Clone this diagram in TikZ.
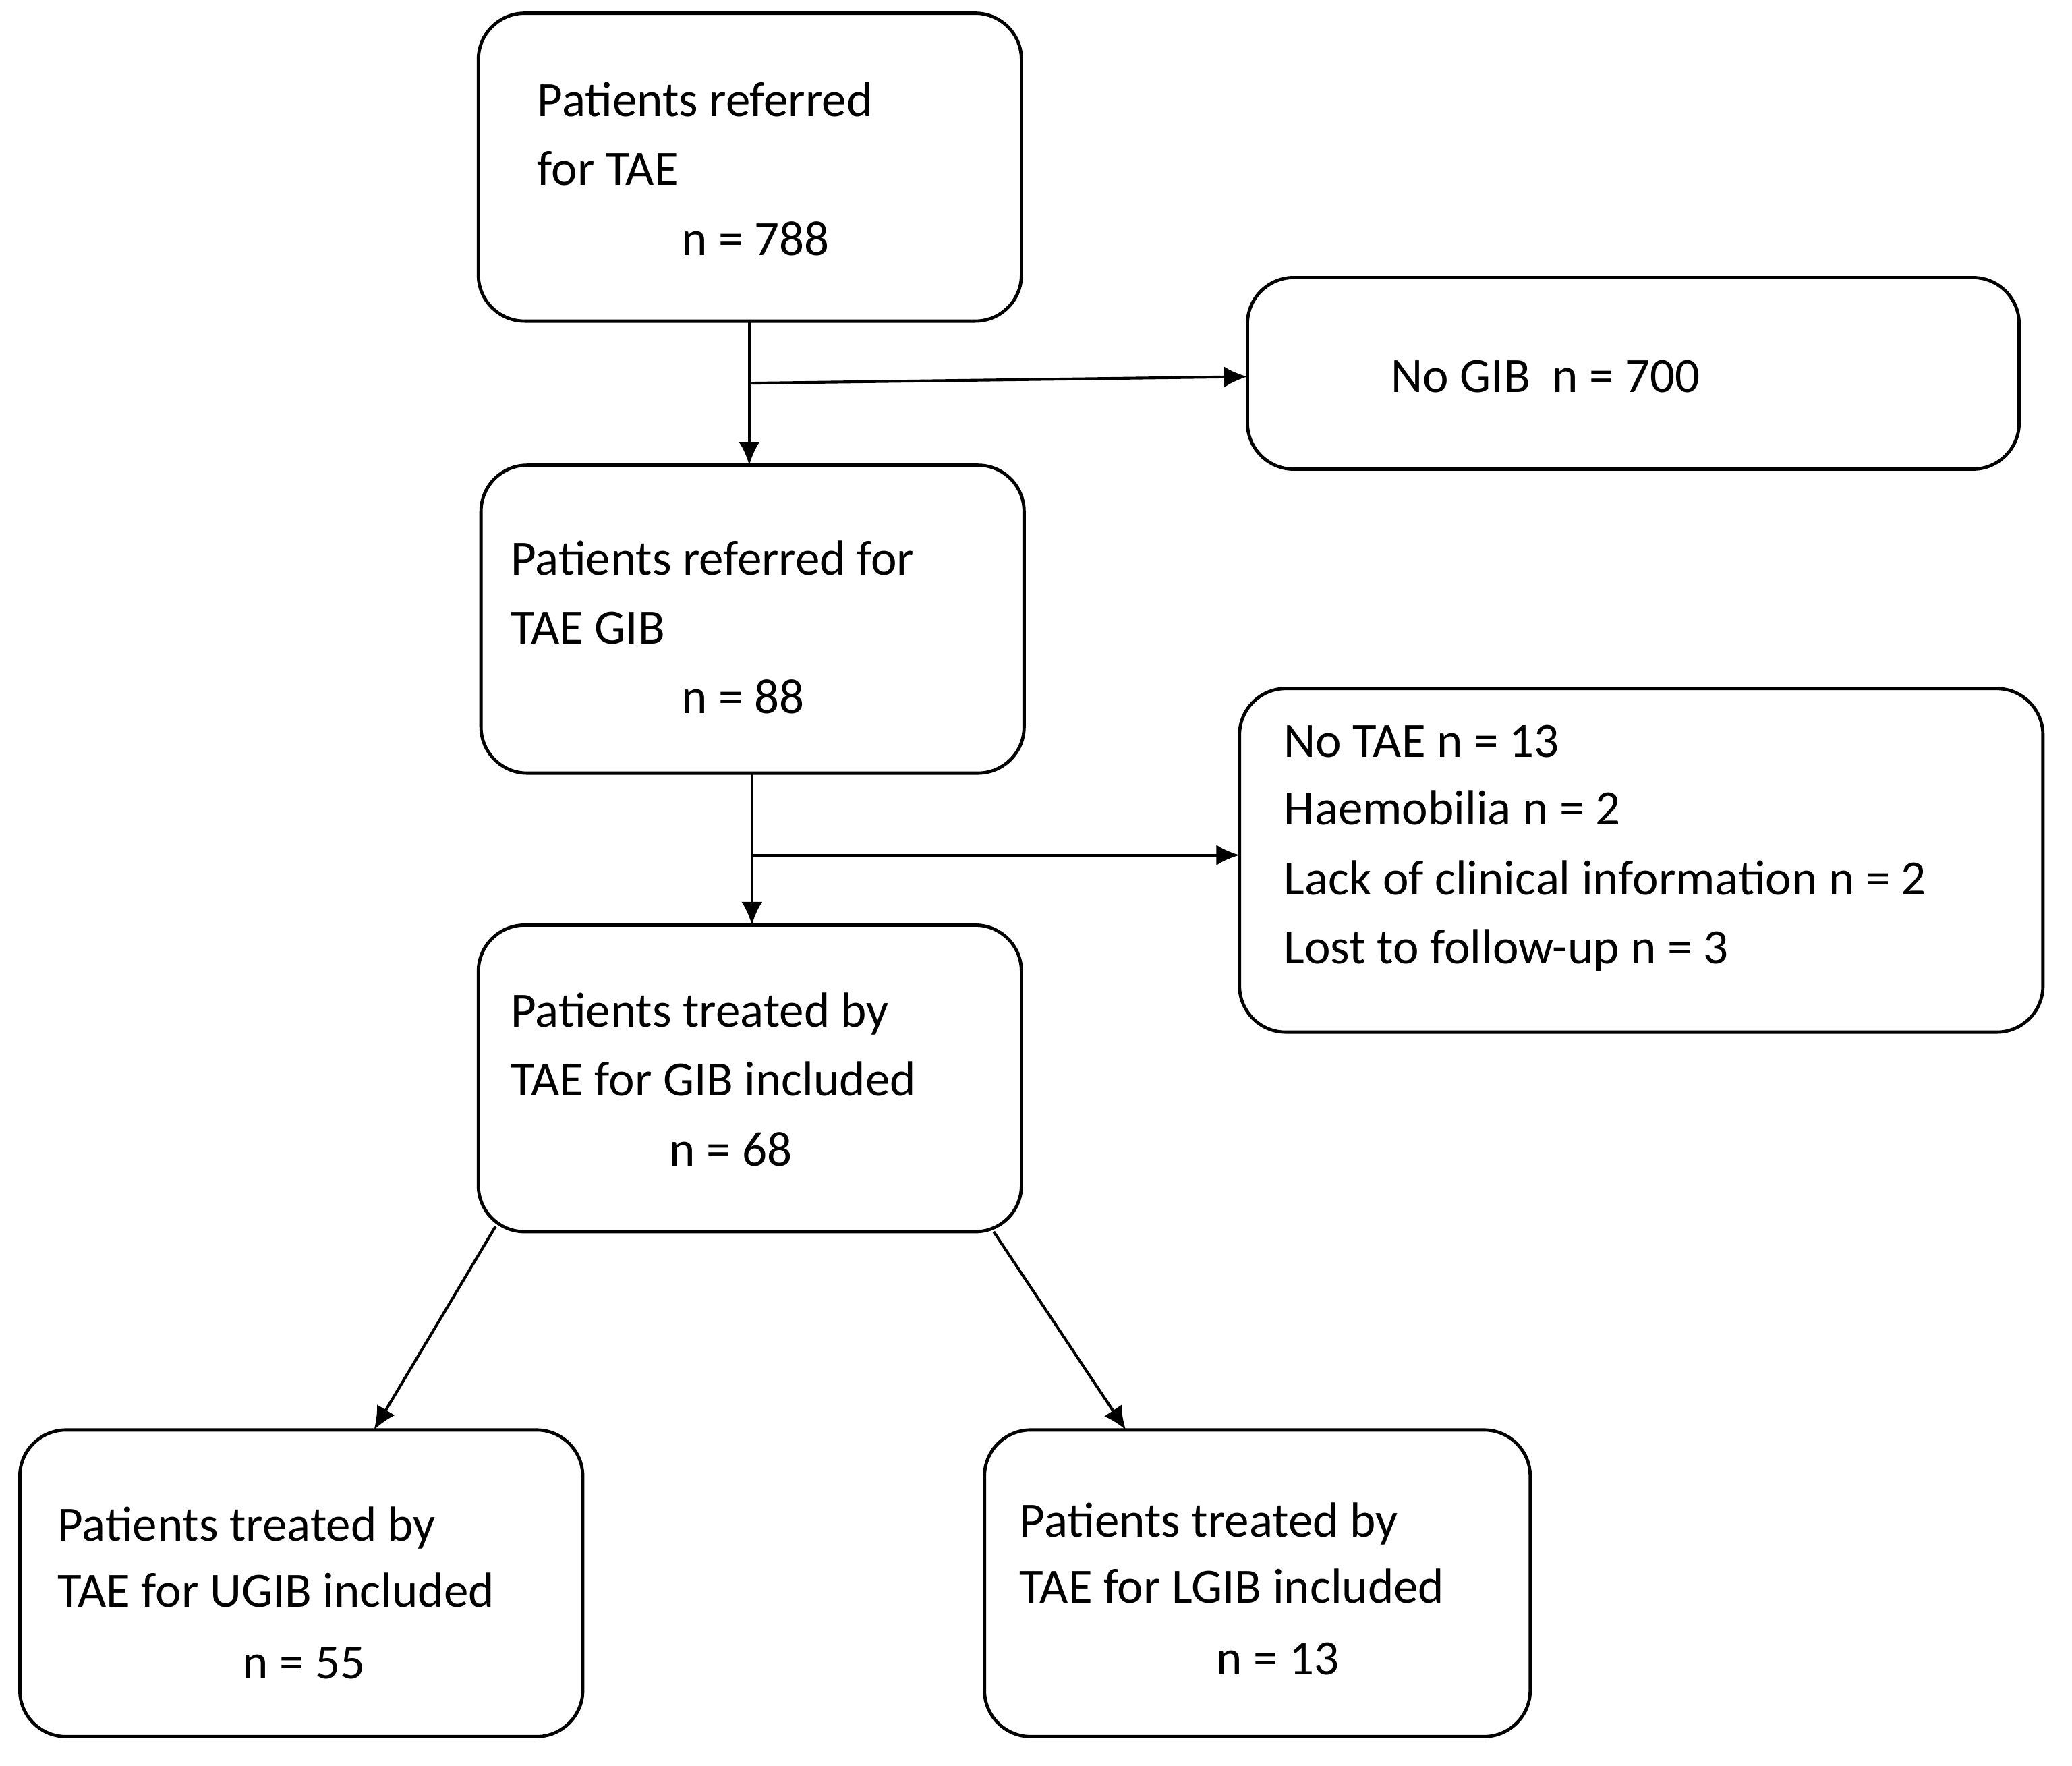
\documentclass[tikz,border=0pt]{standalone}
\usepackage{fontspec}
\setmainfont{Carlito}
\usetikzlibrary{arrows.meta}

\begin{document}
\begin{tikzpicture}[x=0.01cm,y=-0.01cm,
    box/.style={draw, line width=0.7pt, rounded corners=0.35cm},
    txt/.style={anchor=base west, inner sep=0pt, font=\fontsize{10.6}{13}\selectfont},
    arr/.style={-{Latex[length=5pt,width=4.5pt]}, line width=0.6pt}]
    \useasboundingbox (0,0) rectangle (1568,1336);
    % boxes
    \draw[box] (362,10) rectangle (773,243);
    \draw[box] (944,210) rectangle (1528,355);
    \draw[box] (364,352) rectangle (775,585);
    \draw[box] (938,521) rectangle (1546,781);
    \draw[box] (362,700) rectangle (773,932);
    \draw[box] (15,1082) rectangle (441,1314);
    \draw[box] (745,1082) rectangle (1158,1314);
    \coordinate (refTop) at (567,243);
    \coordinate (refBot) at (567,352);
    \coordinate (refMid) at (567,290);
    \coordinate (noGib) at (944,285);
    \coordinate (gibTop) at (569,585);
    \coordinate (gibBot) at (569,700);
    \coordinate (gibMid) at (569,647);
    \coordinate (excl) at (938,647);
    \coordinate (incL) at (375,928);
    \coordinate (incR) at (752,932);
    \coordinate (ugib) at (283,1082);
    \coordinate (lgib) at (852,1082);
    % text
    \node[txt] (a1) at (406,88) {Patients referred};
    \node[txt] (a2) at (406,140) {for TAE};
    \node[txt] (a3) at (515,193) {n = 788};
    \node[txt] (b1) at (1052,297) {No GIB\ \ n = 700};
    \node[txt] (c1) at (386,435) {Patients referred for};
    \node[txt] (c2) at (386,487) {TAE GIB};
    \node[txt] (c3) at (515,540) {n = 88};
    \node[txt] (d1) at (971,573) {No TAE n = 13};
    \node[txt] (d2) at (971,624) {Haemobilia n = 2};
    \node[txt] (d3) at (971,677) {Lack of clinical information n = 2};
    \node[txt] (d4) at (971,729) {Lost to follow-up n = 3};
    \node[txt] (e1) at (386,777) {Patients treated by};
    \node[txt] (e2) at (386,829) {TAE for GIB included};
    \node[txt] (e3) at (506,882) {n = 68};
    \node[txt] (f1) at (43,1166) {Patients treated by};
    \node[txt] (f2) at (43,1216) {TAE for UGIB included};
    \node[txt] (f3) at (183,1270) {n = 55};
    \node[txt] (g1) at (771,1163) {Patients treated by};
    \node[txt] (g2) at (771,1213) {TAE for LGIB included};
    \node[txt] (g3) at (920,1267) {n = 13};
    % connectors
    \draw[arr] (refTop) -- (refBot);
    \draw[arr] (refMid) -- (noGib);
    \draw[arr] (gibTop) -- (gibBot);
    \draw[arr] (gibMid) -- (excl);
    \draw[arr] (incL) -- (ugib);
    \draw[arr] (incR) -- (lgib);
\end{tikzpicture}
\end{document}
